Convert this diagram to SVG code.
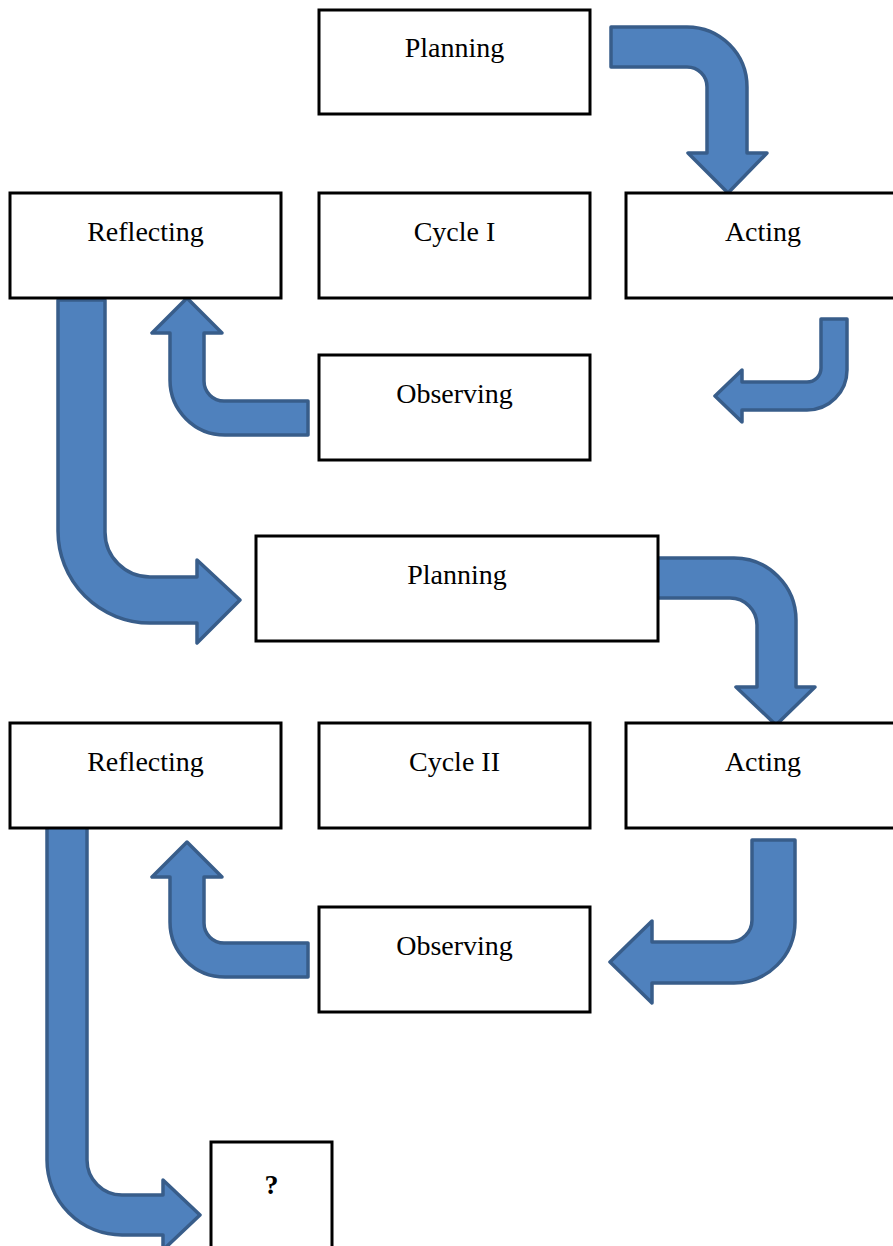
<svg xmlns="http://www.w3.org/2000/svg" width="893" height="1246" viewBox="0 0 893 1246">
<style>
.box{fill:#fff;stroke:#000;stroke-width:3}
.lbl{font-family:"Liberation Serif","Times New Roman",serif;font-size:28px;fill:#000;text-anchor:middle}
.arr{fill:#4F81BD;stroke:#385D8A;stroke-width:3.5;stroke-linejoin:round}
</style>
<rect width="893" height="1246" fill="#fff"/>
<g id="connectors">
<path class="arr" d="M611,27 L687,27 A60,60 0 0 1 747,87 L747,153 L767,153 L728,193 L688,153 L707,153 L707,87 A20,20 0 0 0 687,67 L611,67 Z"/>
<path class="arr" d="M821,319 L847,319 L847,370 A40,40 0 0 1 807,410 L742,410 L742,422 L715,396 L742,370 L742,382 L807,382 A14,14 0 0 0 821,368 Z"/>
<path class="arr" d="M308,401 L224,401 A20,20 0 0 1 204,381 L204,333 L222,333 L187,298 L152,333 L170,333 L170,380 A55,55 0 0 0 225,435 L308,435 Z"/>
<path class="arr" d="M58,300 L105,300 L105,532 A45,45 0 0 0 150,577 L197,577 L197,560 L240,600 L197,643 L197,623 L150,623 A92,92 0 0 1 58,531 Z"/>
<path class="arr" d="M657,558 L734,558 A62,62 0 0 1 796,620 L796,687 L815,687 L776,725 L736,687 L757,687 L757,625 A27,27 0 0 0 730,598 L657,598 Z"/>
<path class="arr" d="M752,840 L795,840 L795,922 A61,61 0 0 1 734,983 L652,983 L652,1003 L610,962 L652,921 L652,942 L730,942 A22,22 0 0 0 752,920 Z"/>
<path class="arr" d="M308,943 L224,943 A20,20 0 0 1 204,923 L204,877 L222,877 L187,842 L152,877 L170,877 L170,922 A55,55 0 0 0 225,977 L308,977 Z"/>
<path class="arr" d="M47,827 L87,827 L87,1160 A35,35 0 0 0 122,1195 L163,1195 L163,1180 L200,1215 L163,1250 L163,1235 L122,1235 A75,75 0 0 1 47,1160 Z"/>
</g>
<g id="planning1"><rect class="box" x="319" y="10" width="271" height="104"/><text class="lbl" x="454.5" y="57">Planning</text></g>
<g id="reflecting1"><rect class="box" x="10" y="193" width="271" height="105"/><text class="lbl" x="145.5" y="241">Reflecting</text></g>
<g id="cycle1"><rect class="box" x="319" y="193" width="271" height="105"/><text class="lbl" x="454.5" y="241">Cycle I</text></g>
<g id="acting1"><rect class="box" x="626" y="193" width="280" height="105"/><text class="lbl" x="763" y="241">Acting</text></g>
<g id="observing1"><rect class="box" x="319" y="355" width="271" height="105"/><text class="lbl" x="454.5" y="403">Observing</text></g>
<g id="planning2"><rect class="box" x="256" y="536" width="402" height="105"/><text class="lbl" x="457" y="584">Planning</text></g>
<g id="reflecting2"><rect class="box" x="10" y="723" width="271" height="105"/><text class="lbl" x="145.5" y="771">Reflecting</text></g>
<g id="cycle2"><rect class="box" x="319" y="723" width="271" height="105"/><text class="lbl" x="454.5" y="771">Cycle II</text></g>
<g id="acting2"><rect class="box" x="626" y="723" width="280" height="105"/><text class="lbl" x="763" y="771">Acting</text></g>
<g id="observing2"><rect class="box" x="319" y="907" width="271" height="105"/><text class="lbl" x="454.5" y="955">Observing</text></g>
<g id="next"><rect class="box" x="211" y="1142" width="121" height="120"/><text class="lbl" x="271.5" y="1194" font-weight="bold" font-size="30">?</text></g>
</svg>
